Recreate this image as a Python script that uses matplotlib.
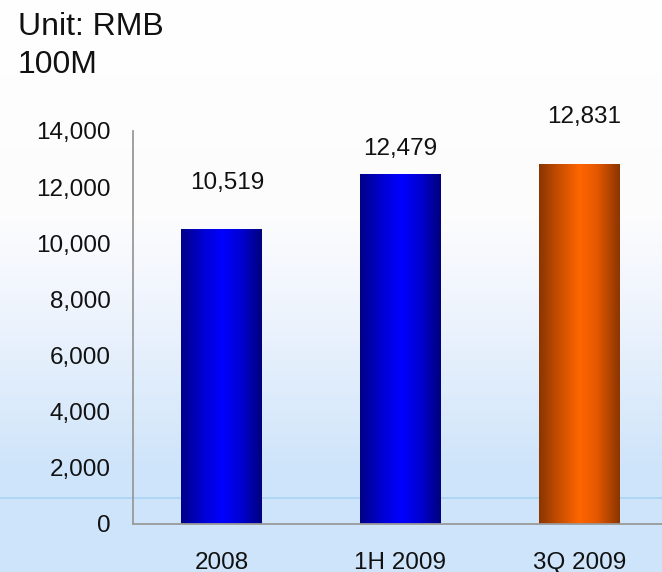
import matplotlib.pyplot as plt
import numpy as np
from matplotlib.colors import LinearSegmentedColormap
from matplotlib.ticker import FuncFormatter, MultipleLocator

plt.rcParams['font.family'] = ['Liberation Sans', 'DejaVu Sans']

periods = ['2008', '1H 2009', '3Q 2009']
balances = [10519, 12479, 12831]
y_max = 14000
y_step = 2000

# label nudges in points (dx, dy above bar top)
label_nudge = [(4, 33), (0, 18), (3, 34)]

W, H = 662, 572
fig = plt.figure(figsize=(W / 100, H / 100), dpi=100)

# page background: white fading into pale blue toward the bottom
bg = fig.add_axes([0, 0, 1, 1], zorder=-1)
rows = np.arange(H)
stops = [0, 220, 300, 470, H]
r = np.interp(rows, stops, [255, 252, 240, 206, 206])
g = np.interp(rows, stops, [255, 252, 245, 228, 228])
b = np.interp(rows, stops, [255, 253, 253, 250, 250])
grad = np.stack([r, g, b], axis=-1)[:, None, :].repeat(2, axis=1) / 255
bg.imshow(grad, aspect='auto', extent=[0, 1, 0, 1], origin='upper')
bg.axhline((H - 498) / H, color='#a9d3f3', lw=1.2)
bg.set_xlim(0, 1)
bg.set_ylim(0, 1)
bg.axis('off')

left, right = 133 / W, 1.0
bottom, top = (H - 524) / H, (H - 131) / H
ax = fig.add_axes([left, bottom, right - left, top - bottom])
ax.patch.set_alpha(0)

x = np.arange(len(periods))
bars = ax.bar(x, balances, width=0.45, color='none', edgecolor='none')

blue = LinearSegmentedColormap.from_list(
    'blue_tube', [(0, '#000088'), (0.3, '#0000d8'), (0.52, '#0000ff'),
                  (0.75, '#0000d0'), (1, '#00007e')])
orange = LinearSegmentedColormap.from_list(
    'orange_tube', [(0, '#8a3500'), (0.25, '#c84e00'), (0.5, '#ff6600'),
                    (0.72, '#e55800'), (1, '#8a3500')])
bar_maps = [blue, blue, orange]

ramp = np.linspace(0, 1, 256)[None, :]
for bar, cmap in zip(bars, bar_maps):
    x0, w, h = bar.get_x(), bar.get_width(), bar.get_height()
    im = ax.imshow(ramp, cmap=cmap, aspect='auto',
                   extent=[x0, x0 + w, 0, h], zorder=2)
    im.set_clip_path(bar)

for bar, val, (dx, dy) in zip(bars, balances, label_nudge):
    ax.annotate(f'{val:,}', (bar.get_x() + bar.get_width() / 2, val),
                xytext=(dx, dy), textcoords='offset points',
                ha='center', va='center', fontsize=17.5, color='#111111')

ax.set_xlim(-0.494, 2.461)
ax.set_ylim(0, y_max)
ax.yaxis.set_major_locator(MultipleLocator(y_step))
ax.yaxis.set_major_formatter(FuncFormatter(lambda v, p: f'{v:,.0f}'))
ax.set_xticks(x)
ax.set_xticklabels(periods)
ax.tick_params(axis='y', length=0, pad=16, labelsize=17.5, labelcolor='#111111')
ax.tick_params(axis='x', length=0, pad=20, labelsize=17.5, labelcolor='#111111')

for side in ('top', 'right'):
    ax.spines[side].set_visible(False)
for side in ('left', 'bottom'):
    ax.spines[side].set_color('#999999')
    ax.spines[side].set_linewidth(1.3)

fig.text(18 / W, 1 - 12 / H, 'Unit: RMB\n100M', ha='left', va='top',
         fontsize=23, color='#111111', linespacing=1.33)

fig.savefig('out.png', dpi=100)
